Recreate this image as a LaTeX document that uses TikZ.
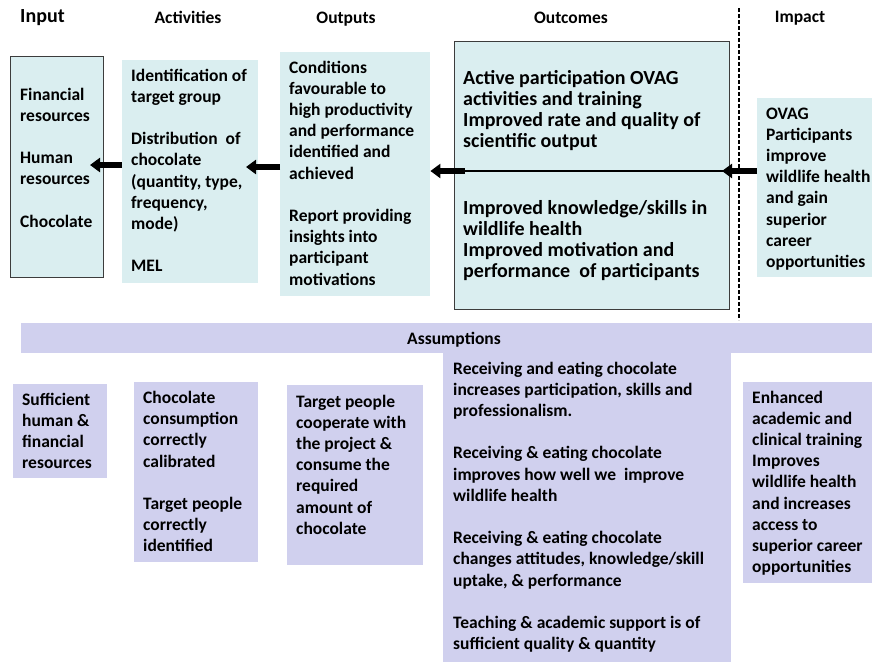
\documentclass[tikz,border=0pt]{standalone}
\usepackage{fontspec}
\setmainfont{Carlito}
\usetikzlibrary{arrows.meta}
\definecolor{boxcyan}{HTML}{DAEEF0}
\definecolor{assumlav}{HTML}{D0D0EE}
\definecolor{boxedge}{HTML}{3C3C3C}

\begin{document}
\begin{tikzpicture}[x=1pt, y=-1pt,
    every node/.style={inner sep=0pt, align=left, font=\bfseries\fontsize{17.5}{21.2}\selectfont},
    cyanbox/.style={fill=boxcyan, anchor=north west},
    lavbox/.style={fill=assumlav, anchor=north west},
    txt/.style={anchor=base west},
    head/.style={anchor=base},
    fat/.style={line width=6.5pt, -{Triangle[length=10pt,width=14pt]}}
]
\useasboundingbox (0,0) rectangle (872,662);

% column headers
\node[txt, font=\bfseries\fontsize{20}{24}\selectfont] (hinput) at (20,22) {Input};
\node[head] (hactv) at (188,23) {Activities};
\node[head] (houtp) at (346,23) {Outputs};
\node[head] (houtc) at (571,23) {Outcomes};
\node[head] (himp) at (800,22) {Impact};

% top row of boxes
\node[cyanbox, draw=boxedge, line width=1.2pt, minimum width=93pt, minimum height=221pt] (input) at (10,56) {};
\node[cyanbox, minimum width=136pt, minimum height=223pt] (actv) at (122,60) {};
\node[cyanbox, minimum width=150pt, minimum height=244pt] (outp) at (280,52) {};
\node[cyanbox, draw=boxedge, line width=1.2pt, minimum width=275pt, minimum height=268pt] (outc) at (454,41) {};
\node[cyanbox, minimum width=115pt, minimum height=179pt] (imp) at (757,98) {};

% texts sit on the baseline of their last line
\node[txt] (inputtxt) at (20,227.2) {Financial\\resources\\[21.2pt]Human\\resources\\[21.2pt]Chocolate};
\node[txt] (actvtxt) at (131,271.8) {Identification of\\target group\\[21.2pt]Distribution\ \ of\\chocolate\\(quantity, type,\\frequency,\\mode)\\[21.2pt]MEL};
\node[txt] (outptxt) at (289,285) {Conditions\\favourable to\\high productivity\\and performance\\identified and\\achieved\\[21.2pt]Report providing\\insights into\\participant\\motivations};
\node[txt, font=\bfseries\fontsize{20}{21}\selectfont] (outctxt) at (463,147) {Active participation OVAG\\activities and training\\Improved rate and quality of\\scientific output};
\node[txt, font=\bfseries\fontsize{20}{21}\selectfont] (outctxtb) at (463,277) {Improved knowledge/skills in\\wildlife health\\Improved motivation and\\performance\ \ of participants};
\node[txt] (imptxt) at (766,267.4) {OVAG\\Participants\\improve\\wildlife health\\and gain\\superior\\career\\opportunities};

% arrows
\coordinate (tipA) at (90,165);
\coordinate (tipB) at (246,167);
\coordinate (splitO) at (465,171);
\coordinate (tipD) at (722,171);
\draw[fat] (tipA -| actv.west) -- (tipA);
\draw[fat] (tipB -| outp.west) -- (tipB);
\draw[line width=2pt] (splitO -| outc.east) -- (splitO);
\draw[fat] (splitO) -- (splitO -| outp.east);
\draw[fat] (tipD -| imp.west) -- (tipD);

% dashed divider
\coordinate (dashtop) at (739,8);
\coordinate (dashbot) at (739,320);
\draw[line width=1.5pt, dash pattern=on 4pt off 2pt] (dashtop) -- (dashbot);

% assumptions
\node[lavbox, minimum width=851pt, minimum height=30pt] (assum) at (21,323) {};
\node[head] (assumtxt) at (454,344) {Assumptions};
\node[lavbox, minimum width=94pt, minimum height=94pt] (asinput) at (13,384) {};
\node[lavbox, minimum width=124pt, minimum height=180pt] (asactv) at (134,382) {};
\node[lavbox, minimum width=136pt, minimum height=180pt] (asoutp) at (287,385) {};
\node[lavbox, minimum width=288pt, minimum height=309pt] (asoutc) at (443,353) {};
\node[lavbox, minimum width=129pt, minimum height=201pt] (asimp) at (743,382) {};

\node[txt] (asinputtxt) at (22,468.6) {Sufficient\\human \&\\financial\\resources};
\node[txt] (asactvtxt) at (143,551.9) {Chocolate\\consumption\\correctly\\calibrated\\[21.2pt]Target people\\correctly\\identified};
\node[txt] (asoutptxt) at (296,534.2) {Target people\\cooperate with\\the project \&\\consume the\\required\\amount of\\chocolate};
\node[txt] (asoutctxt) at (453,649.6) {Receiving and eating chocolate\\increases participation, skills and\\professionalism.\\[21.2pt]Receiving \& eating chocolate\\improves how well we\ \ improve\\wildlife health\\[21.2pt]Receiving \& eating chocolate\\changes attitudes, knowledge/skill\\uptake, \& performance\\[21.2pt]Teaching \& academic support is of\\sufficient quality \& quantity};
\node[txt] (asimptxt) at (752,572.6) {Enhanced\\academic and\\clinical training\\Improves\\wildlife health\\and increases\\access to\\superior career\\opportunities};
\end{tikzpicture}
\end{document}
